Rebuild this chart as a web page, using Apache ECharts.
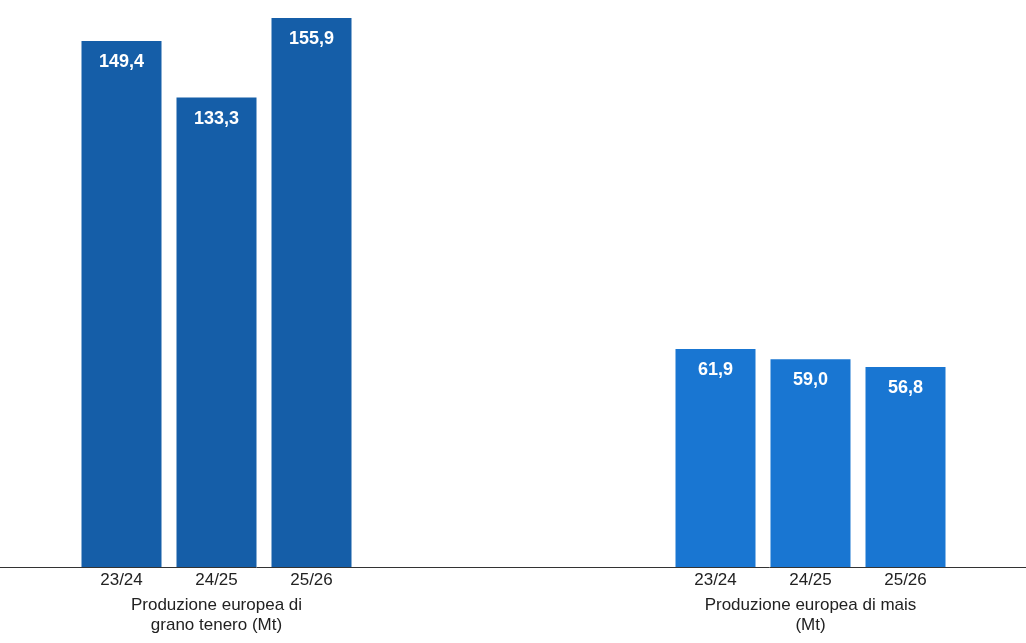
<!DOCTYPE html>
<html><head><meta charset="utf-8">
<script src="https://cdn.jsdelivr.net/npm/echarts@6/dist/echarts.min.js"></script>
<style>html,body{margin:0;padding:0;background:#fff}#c{width:1026px;height:643px}</style>
</head><body><div id="c"></div>
<script>
var seasons = ['23/24', '24/25', '25/26'];
var grano = [149.4, 133.3, 155.9];
var mais = [61.9, 59.0, 56.8];
var nameGrano = 'Produzione europea di\ngrano tenero (Mt)';
var nameMais = 'Produzione europea di mais\n(Mt)';

var chart = echarts.init(document.getElementById('c'));
function fmt(p) { return p.value.toFixed(1).replace('.', ','); }
function xAx(idx, name) {
  return {
    gridIndex: idx, type: 'category', data: seasons,
    axisLine: { show: false }, axisTick: { show: false },
    axisLabel: { color: '#222', fontSize: 17, margin: 5, fontFamily: 'Liberation Sans' },
    name: name, nameLocation: 'middle', nameGap: 28,
    nameTextStyle: { color: '#222', fontSize: 17, fontFamily: 'Liberation Sans', lineHeight: 20 }
  };
}
function yAx(idx) {
  return { gridIndex: idx, type: 'value', min: 0, max: 155.9, show: false };
}
function ser(idx, data, color) {
  return {
    type: 'bar', xAxisIndex: idx, yAxisIndex: idx, data: data, barWidth: 80,
    itemStyle: { color: color },
    label: { show: true, position: 'insideTop', distance: 12, color: '#fff', fontSize: 18, fontWeight: 'bold',
      fontFamily: 'Liberation Sans', formatter: fmt }
  };
}
chart.setOption({
  animation: false,
  grid: [
    { left: 74, width: 285, top: 18, bottom: 76, outerBoundsMode: 'none', containLabel: false },
    { left: 668, width: 285, top: 18, bottom: 76, outerBoundsMode: 'none', containLabel: false }
  ],
  xAxis: [xAx(0, nameGrano), xAx(1, nameMais)],
  yAxis: [yAx(0), yAx(1)],
  graphic: [{ type: 'line', shape: { x1: 0, y1: 567.5, x2: 1026, y2: 567.5 }, style: { stroke: '#333', lineWidth: 1 } }],
  series: [ser(0, grano, '#155ea8'), ser(1, mais, '#1976d2')]
});
</script></body></html>
